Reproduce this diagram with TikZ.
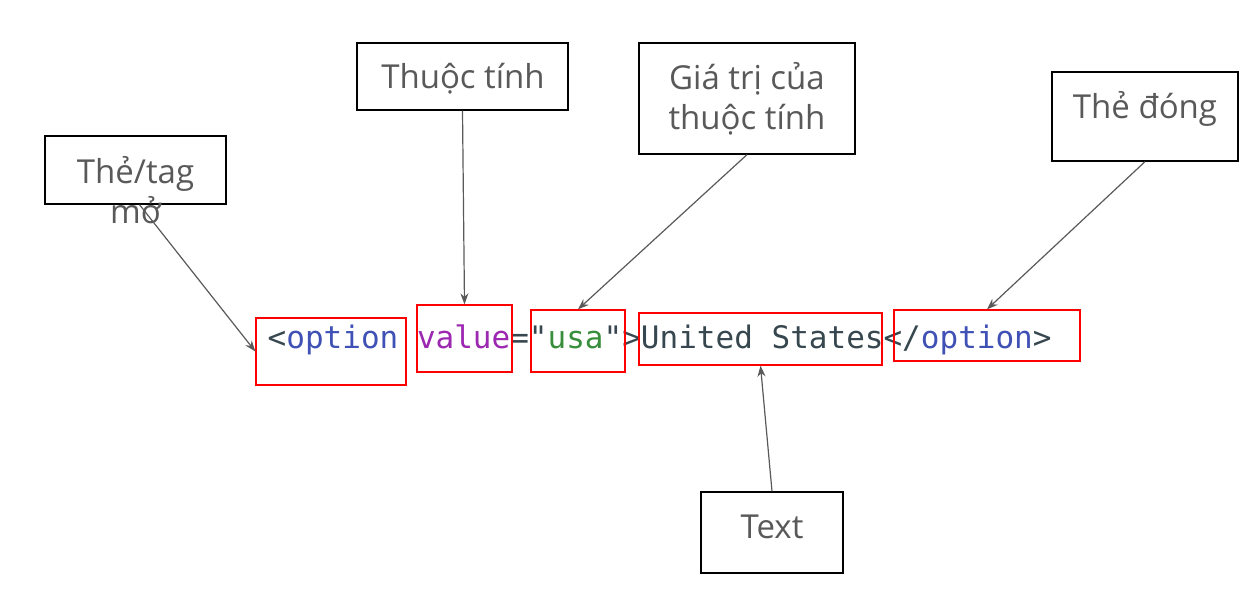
\documentclass[tikz,border=0pt]{standalone}
\usepackage{fontspec}
\setmainfont{Open Sans}
\newfontfamily\codefont{DejaVu Sans Mono}
\usetikzlibrary{arrows.meta}
\definecolor{labelgray}{HTML}{595959}
\definecolor{punct}{HTML}{37474F}
\definecolor{tagblue}{HTML}{3F51B5}
\definecolor{attrpurple}{HTML}{9C27B0}
\definecolor{strgreen}{HTML}{388E3C}
\tikzset{
  callout/.style={draw=black, line width=1.3pt, fill=white, inner sep=0pt},
  labeltext/.style={text=labelgray, font=\fontsize{33}{40}\selectfont, align=center, inner sep=0pt},
  mark box/.style={draw=red, line width=1.3pt, inner sep=0pt},
  pointer/.style={draw=labelgray, line width=1.2pt, -{Stealth[length=11pt,width=8pt]}},
}
\begin{document}
\begin{tikzpicture}[x=1pt,y=-1pt]
\useasboundingbox (0,0) rectangle (1248,609);

% code line
\node[anchor=base west, inner sep=0pt, font=\codefont\fontsize{31}{31}\selectfont] (code) at (267.5,348.5)
  {\textcolor{punct}{<}\textcolor{tagblue}{option} \textcolor{attrpurple}{value}\textcolor{punct}{="}\textcolor{strgreen}{usa}\textcolor{punct}{">United States</}\textcolor{tagblue}{option}\textcolor{punct}{>}};

% highlighted parts of the code line
\node[mark box, minimum width=150pt, minimum height=67pt] (opentag) at (331,351.5) {};
\node[mark box, minimum width=95pt, minimum height=67pt] (attr) at (464.5,338.5) {};
\node[mark box, minimum width=94pt, minimum height=62pt] (attrval) at (578,341) {};
\node[mark box, minimum width=243pt, minimum height=52pt] (content) at (760.5,339) {};
\node[mark box, minimum width=186pt, minimum height=51pt] (closetag) at (987,335.5) {};

% callout boxes
\node[callout, minimum width=181pt, minimum height=68pt] (lopen) at (135.5,170) {};
\node[labeltext] at (135.5,190) {Thẻ/tag\\mở};

\node[callout, minimum width=211pt, minimum height=67pt] (lattr) at (462.5,76.5) {};
\node[labeltext] at (463,79) {Thuộc tính};

\node[callout, minimum width=216pt, minimum height=111pt] (lval) at (747,98.5) {};
\node[labeltext] at (747,99) {Giá trị của\\thuộc tính};

\node[callout, minimum width=186pt, minimum height=89pt] (lclose) at (1145,116.5) {};
\node[labeltext] at (1145,109) {Thẻ đóng};

\node[callout, minimum width=142pt, minimum height=81pt] (ltext) at (772,532.5) {};
\node[labeltext] at (772,527) {Text};

% pointers
\draw[pointer] ([xshift=4pt]lopen.south) -- (opentag.west);
\draw[pointer] (lattr.south) -- (attr.north);
\draw[pointer] (lval.south) -- (attrval.north);
\draw[pointer] (lclose.south) -- (closetag.north);
\draw[pointer] (ltext.north) -- (content.south);
\end{tikzpicture}
\end{document}
